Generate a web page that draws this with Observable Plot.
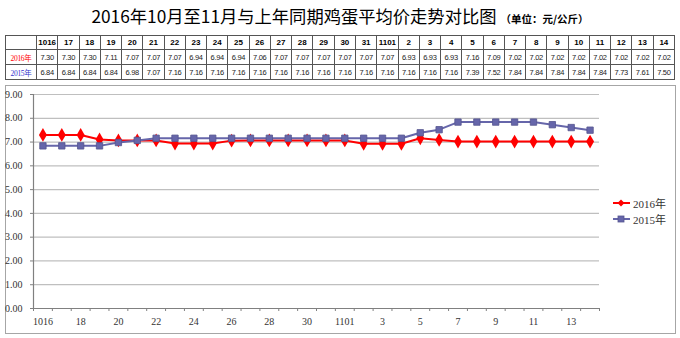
<!DOCTYPE html>
<html>
<head>
<meta charset="utf-8">
<script src="https://cdn.jsdelivr.net/npm/d3@7"></script>
<script src="https://cdn.jsdelivr.net/npm/@observablehq/plot@0.6"></script>
<style>
  body { margin:0; background:#fff; }
  #wrap { position:relative; width:680px; height:338px; overflow:hidden; background:#fff; }
  #title { position:absolute; left:0; top:4px; width:680px; text-align:center; font-family:"Noto Sans CJK SC", sans-serif; font-size:17.3px; line-height:24px; color:#000; white-space:nowrap; }
  #title span { font-size:10.5px; font-weight:bold; margin-left:4px; }
  #tbl { position:absolute; left:5px; top:35px; border-collapse:collapse; table-layout:fixed; width:670px; }
  #tbl td { border:1px solid #555; padding:0; text-align:center; font-family:"Liberation Sans", Arial, sans-serif; font-size:7.5px; letter-spacing:-0.3px; color:#222; overflow:hidden; white-space:nowrap; }
  #tbl tr.h td { font-weight:bold; font-size:8px; letter-spacing:0; height:13px; color:#000; }
  #tbl tr.v td { height:14px; }
  #frame { position:absolute; left:5px; top:85px; width:669px; height:247px; border:1px solid #A6A6A6; }
  #chart { position:absolute; left:0; top:85px; }
  #legend { position:absolute; left:613px; top:195px; font-family:"Liberation Serif", "Noto Sans CJK SC", serif; font-size:11px; color:#333; }
  #legend .item { display:flex; align-items:center; height:16px; }
  #legend svg { margin-right:3px; }
</style>
</head>
<body>
<div id="wrap">
  <div id="title">2016年10月至11月与上年同期鸡蛋平均价走势对比图<span>（单位：元/公斤）</span></div>
  <table id="tbl"></table>
  <div id="frame"></div>
  <div id="chart"></div>
  <div id="legend"></div>
</div>
<script>
const categories = ["1016","17","18","19","20","21","22","23","24","25","26","27","28","29","30","31","1101","2","3","4","5","6","7","8","9","10","11","12","13","14"];
const values2016 = [7.30,7.30,7.30,7.11,7.07,7.07,7.07,6.94,6.94,6.94,7.06,7.07,7.07,7.07,7.07,7.07,7.07,6.93,6.93,6.93,7.16,7.09,7.02,7.02,7.02,7.02,7.02,7.02,7.02,7.02];
const values2015 = [6.84,6.84,6.84,6.84,6.98,7.07,7.16,7.16,7.16,7.16,7.16,7.16,7.16,7.16,7.16,7.16,7.16,7.16,7.16,7.16,7.39,7.52,7.84,7.84,7.84,7.84,7.84,7.73,7.61,7.50];
const seriesNames = ["2016年","2015年"];
const seriesColors = ["#FF0000","#6666AA"];
const yTicks = [0,1,2,3,4,5,6,7,8,9];

const fmt = d3.format(".2f");

// table
const tbl = document.getElementById("tbl");
const cg = document.createElement("colgroup");
cg.innerHTML = '<col style="width:31px">' + categories.map(() => '<col>').join("");
tbl.appendChild(cg);
const hr = document.createElement("tr"); hr.className = "h";
hr.innerHTML = "<td></td>" + categories.map(c => `<td>${c}</td>`).join("");
tbl.appendChild(hr);
[values2016, values2015].forEach((vals, k) => {
  const tr = document.createElement("tr"); tr.className = "v";
  tr.innerHTML = `<td style="color:${k===0?'#FF0000':'#3333CC'};font-family:'Liberation Serif','Noto Sans CJK SC',serif;font-size:7.5px">${seriesNames[k]}</td>` +
    vals.map(v => `<td>${fmt(v)}</td>`).join("");
  tbl.appendChild(tr);
});

const d16 = values2016.map((v, i) => ({i, v}));
const d15 = values2015.map((v, i) => ({i, v}));
const boundaries = d3.range(-0.5, categories.length, 1);
const labelIdx = d3.range(0, categories.length, 2);

const chart = Plot.plot({
  width: 680,
  height: 253,
  marginTop: 9,
  marginBottom: 30,
  marginLeft: 33,
  marginRight: 81,
  style: {fontFamily: "'Liberation Serif', serif", fontSize: "10px", color: "#333", background: "transparent"},
  x: {domain: [-0.5, categories.length - 0.5]},
  y: {domain: [0, 9]},
  marks: [
    Plot.gridY(yTicks, {stroke: "#BFBFBF", strokeOpacity: 1, strokeWidth: 1.2}),
    Plot.axisY({ticks: yTicks, tickSize: 3, tickPadding: 8, tickFormat: fmt, stroke: "#808080", fill: "#333", label: null}),
    Plot.axisX({ticks: boundaries, tickSize: 3, tickFormat: () => "", stroke: "#808080", label: null}),
    Plot.axisX({ticks: labelIdx, tickSize: 0, tickPadding: 9, tickFormat: i => categories[i], fill: "#333", label: null}),
    Plot.ruleY([0], {stroke: "#808080", strokeWidth: 1.2}),
    Plot.ruleX([-0.5], {stroke: "#808080", strokeWidth: 1.2}),
    Plot.line(d16, {x: "i", y: "v", stroke: seriesColors[0], strokeWidth: 2}),
    Plot.dot(d16, {x: "i", y: "v", symbol: "diamond", fill: seriesColors[0], r: 4.2}),
    Plot.line(d15, {x: "i", y: "v", stroke: seriesColors[1], strokeWidth: 2}),
    Plot.dot(d15, {x: "i", y: "v", symbol: "square", fill: seriesColors[1], stroke: "#55558F", strokeWidth: 0.8, r: 3.6})
  ]
});
document.getElementById("chart").appendChild(chart);

// legend
const lg = document.getElementById("legend");
seriesNames.forEach((name, k) => {
  const marker = k === 0
    ? `<path d="M8 3.5 L11.5 7 L8 10.5 L4.5 7 Z" fill="${seriesColors[0]}"/>`
    : `<rect x="5" y="4" width="6" height="6" fill="${seriesColors[1]}" stroke="#55558F" stroke-width="0.8"/>`;
  const div = document.createElement("div"); div.className = "item";
  div.innerHTML = `<svg width="17" height="14"><line x1="0" x2="17" y1="7" y2="7" stroke="${seriesColors[k]}" stroke-width="2"/>${marker}</svg><span>${name}</span>`;
  lg.appendChild(div);
});
</script>
</body>
</html>
